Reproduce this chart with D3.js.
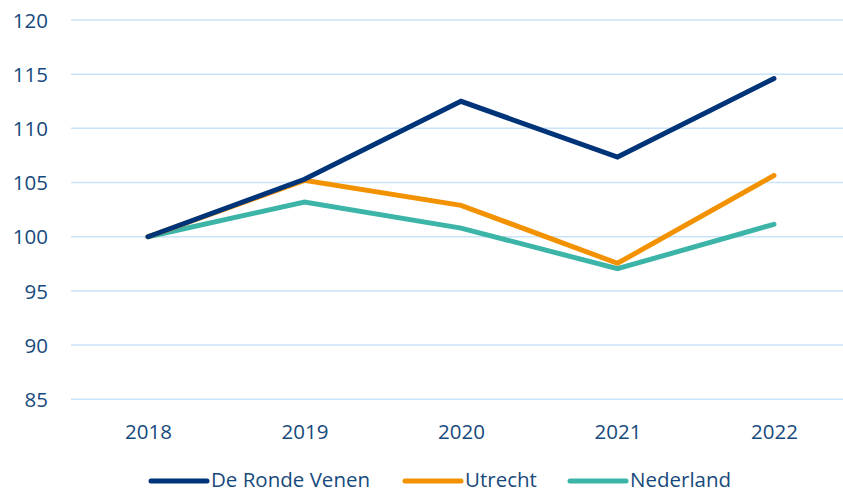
<!DOCTYPE html>
<html><head><meta charset="utf-8">
<script src="https://cdn.jsdelivr.net/npm/d3@7"></script>
<style>body{margin:0;background:#fff}svg{display:block}</style>
</head><body>
<svg id="c" width="843" height="493"></svg>
<script>
const years = ["2018","2019","2020","2021","2022"];
const deRondeVenen = [100, 105.3, 112.5, 107.35, 114.6];
const utrecht = [100, 105.2, 102.9, 97.55, 105.65];
const nederland = [100, 103.2, 100.8, 97.05, 101.15];
const yTicks = [85, 90, 95, 100, 105, 110, 115, 120];
const seriesNames = ["De Ronde Venen", "Utrecht", "Nederland"];
const seriesColors = ["#003478", "#f39200", "#3cb4a8"];
const seriesValues = [deRondeVenen, utrecht, nederland];

const svg = d3.select("#c");
const textColor = "#174a7c";
const font = "'Open Sans', sans-serif";
const x = d3.scalePoint().domain(years).range([148, 774]);
const y = d3.scaleLinear().domain([85, 120]).range([399.3, 20]);

// grid
svg.append("g").selectAll("line").data(yTicks).join("line")
  .attr("x1", 71).attr("x2", 843)
  .attr("y1", d => y(d)).attr("y2", d => y(d))
  .attr("stroke", "#c8e3fa").attr("stroke-width", 1.5);

// y labels
const yAxis = d3.axisLeft(y).tickValues(yTicks).tickSize(0).tickPadding(0);
const yg = svg.append("g").attr("transform", "translate(48,0)").call(yAxis);
yg.select(".domain").remove();
yg.selectAll("text").attr("fill", textColor).style("font-family", font).style("font-size", "20.5px").attr("dy", "0.35em");

// x labels
const xAxis = d3.axisBottom(x).tickSize(0).tickPadding(0);
const xg = svg.append("g").attr("transform", "translate(0,432)").call(xAxis);
xg.select(".domain").remove();
xg.selectAll("text").attr("fill", textColor).style("font-family", font).style("font-size", "20.5px").attr("dy", "0.35em");

// lines
const line = d3.line().x((d, i) => x(years[i])).y(d => y(d));
[2, 1, 0].forEach(k => {
  svg.append("path").datum(seriesValues[k])
    .attr("d", line).attr("fill", "none")
    .attr("stroke", seriesColors[k]).attr("stroke-width", 5)
    .attr("stroke-linecap", "round").attr("stroke-linejoin", "miter");
});

// legend
const legendX = [151, 405, 570];
const lg = svg.append("g");
seriesNames.forEach((n, i) => {
  lg.append("line").attr("x1", legendX[i]).attr("x2", legendX[i] + 56)
    .attr("y1", 481).attr("y2", 481)
    .attr("stroke", seriesColors[i]).attr("stroke-width", 5).attr("stroke-linecap", "round");
  lg.append("text").attr("x", legendX[i] + 60).attr("y", 479.5).attr("dy", "0.35em")
    .attr("fill", textColor).style("font-family", font).style("font-size", "20.5px").text(n);
});
</script>
</body></html>
